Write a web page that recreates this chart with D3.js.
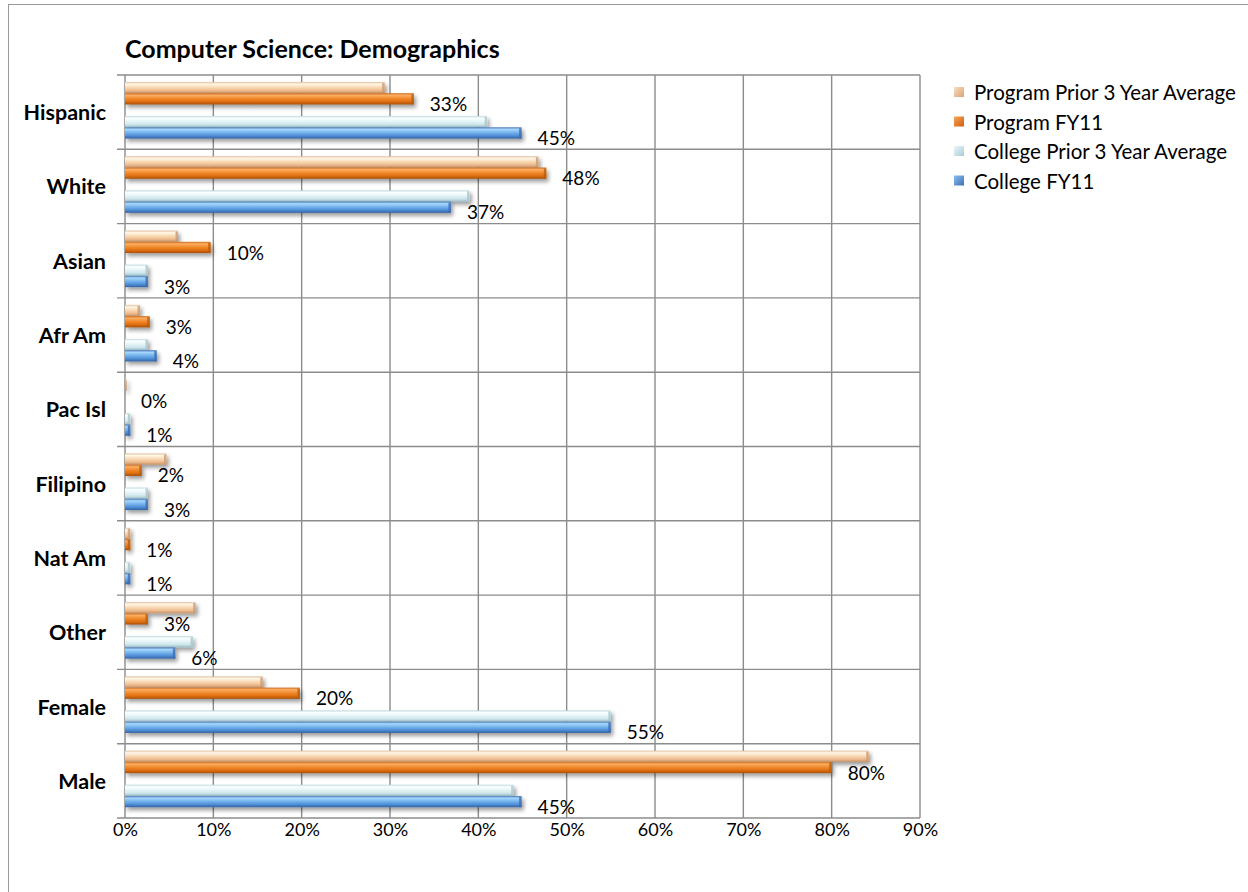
<!DOCTYPE html>
<html>
<head>
<meta charset="utf-8">
<script src="https://cdnjs.cloudflare.com/ajax/libs/d3/7.8.5/d3.min.js"></script>
<style>
  html, body { margin: 0; padding: 0; background: #ffffff; }
  svg { display: block; }
  text { font-family: Lato, "Open Sans", sans-serif; fill: #000; }
</style>
</head>
<body>
<div id="chart"></div>
<script>
// Categories shown top to bottom
const categories = ["Hispanic", "White", "Asian", "Afr Am", "Pac Isl", "Filipino", "Nat Am", "Other", "Female", "Male"];

// Series values (share of students)
const programPrior = [0.294, 0.468, 0.060, 0.017, 0.002, 0.047, 0.006, 0.080, 0.156, 0.842];
const programFY11  = [0.327, 0.477, 0.097, 0.028, 0.000, 0.019, 0.006, 0.026, 0.198, 0.800];
const collegePrior = [0.410, 0.390, 0.026, 0.026, 0.006, 0.026, 0.006, 0.077, 0.550, 0.440];
const collegeFY11  = [0.449, 0.369, 0.026, 0.036, 0.006, 0.026, 0.006, 0.057, 0.550, 0.449];

const seriesNames = ["Program Prior 3 Year Average", "Program FY11", "College Prior 3 Year Average", "College FY11"];
const tickValues = [0, 0.1, 0.2, 0.3, 0.4, 0.5, 0.6, 0.7, 0.8, 0.9];
const titleText = "Computer Science: Demographics";

const W = 1248, H = 892;
const plot = { left: 125, right: 920, top: 75, bottom: 818 };

const series = [
  { key: "pp", name: seriesNames[0], values: programPrior, group: "Program", sub: "prior", label: false,
    stops: ["#E2BE9C", "#FFF7E8", "#FADCB8", "#EEBC8E", "#C4926A"], cap: "#C99A72", legend: ["#F7DDC2", "#D9A477"] },
  { key: "pf", name: seriesNames[1], values: programFY11, group: "Program", sub: "fy11", label: true,
    stops: ["#D16A18", "#FBAE63", "#F18C2E", "#E06E10", "#A4500C"], cap: "#B85C10", legend: ["#F7A35A", "#D0600C"] },
  { key: "cp", name: seriesNames[2], values: collegePrior, group: "College", sub: "prior", label: false,
    stops: ["#BFD9E0", "#FBFFFF", "#E6F5F8", "#CDE6EB", "#98BAC3"], cap: "#A7C6CD", legend: ["#EAF6F9", "#A9CCD6"] },
  { key: "cf", name: seriesNames[3], values: collegeFY11, group: "College", sub: "fy11", label: true,
    stops: ["#4677BA", "#A6D7FB", "#78B6EE", "#4F8ED6", "#3362A3"], cap: "#3D6CB0", legend: ["#8BBDF0", "#3F70B5"] }
];

const svg = d3.select("#chart").append("svg").attr("width", W).attr("height", H);
const defs = svg.append("defs");

// Bar gradients (cylinder-like shading, top to bottom)
series.forEach(s => {
  const g = defs.append("linearGradient").attr("id", "grad-" + s.key)
    .attr("x1", 0).attr("y1", 0).attr("x2", 0).attr("y2", 1);
  [0, 0.18, 0.45, 0.75, 1].forEach((o, i) => g.append("stop").attr("offset", o).attr("stop-color", s.stops[i]));
  const lg = defs.append("linearGradient").attr("id", "lgrad-" + s.key)
    .attr("x1", 0).attr("y1", 0).attr("x2", 1).attr("y2", 1);
  lg.append("stop").attr("offset", 0).attr("stop-color", s.legend[0]);
  lg.append("stop").attr("offset", 1).attr("stop-color", s.legend[1]);
});

// Soft shadow cast by each bar
const f = defs.append("filter").attr("id", "shadow").attr("x", "-5%").attr("y", "-50%").attr("width", "115%").attr("height", "250%");
f.append("feGaussianBlur").attr("in", "SourceAlpha").attr("stdDeviation", 2.2).attr("result", "blur");
f.append("feOffset").attr("in", "blur").attr("dx", 2).attr("dy", 3).attr("result", "off");
f.append("feComponentTransfer").attr("in", "off").attr("result", "shade")
  .append("feFuncA").attr("type", "linear").attr("slope", 0.4);
const merge = f.append("feMerge");
merge.append("feMergeNode").attr("in", "shade");
merge.append("feMergeNode").attr("in", "SourceGraphic");

// Outer chart frame
svg.append("rect").attr("x", 8.5).attr("y", 4.5).attr("width", W + 20).attr("height", H + 20)
  .attr("fill", "none").attr("stroke", "#9a9a9a").attr("stroke-width", 1);

// Scales
const x = d3.scaleLinear().domain([0, 0.9]).range([plot.left, plot.right]);
const y = d3.scaleBand().domain(categories).range([plot.top, plot.bottom]).padding(0);
const bw = y.bandwidth();
const yGroup = d3.scaleBand().domain(["Program", "College"]).range([bw * 0.094, bw * 0.855]).paddingInner(0.34);
const ySub = d3.scaleBand().domain(["prior", "fy11"]).range([0, yGroup.bandwidth()]).padding(0);
const barY = (s, c) => y(c) + yGroup(s.group) + ySub(s.sub);
const barH = ySub.bandwidth();

// Gridlines
const grid = svg.append("g").attr("stroke", "#8c8c8c").attr("stroke-width", 1.4);
grid.selectAll("line.v").data(tickValues).join("line").attr("class", "v")
  .attr("x1", d => x(d)).attr("x2", d => x(d))
  .attr("y1", plot.top).attr("y2", plot.bottom);
const sepValues = categories.map(c => y(c)).concat([plot.bottom]);
grid.selectAll("line.h").data(sepValues).join("line").attr("class", "h")
  .attr("x1", plot.left - 8).attr("x2", plot.right)
  .attr("y1", d => d).attr("y2", d => d);

// Bars
const barsG = svg.append("g");
series.forEach(s => {
  const g = barsG.append("g").attr("filter", "url(#shadow)");
  const data = categories.map((c, i) => ({ c, v: s.values[i] }));
  g.selectAll("rect.body").data(data).join("rect").attr("class", "body")
    .attr("x", x(0))
    .attr("y", d => barY(s, d.c))
    .attr("width", d => Math.max(0, x(d.v) - x(0)))
    .attr("height", barH)
    .attr("fill", `url(#grad-${s.key})`);
  // beveled end face
  g.selectAll("rect.cap").data(data.filter(d => d.v > 0)).join("rect").attr("class", "cap")
    .attr("x", d => x(d.v) - Math.min(2.5, x(d.v) - x(0)))
    .attr("y", d => barY(s, d.c) + 1)
    .attr("width", d => Math.min(2.5, x(d.v) - x(0)))
    .attr("height", barH - 1)
    .attr("fill", s.cap).attr("opacity", 0.8);
});

// Value labels on the FY11 series
const fmt = d3.format(".0%");
series.filter(s => s.label).forEach(s => {
  svg.append("g").selectAll("text").data(categories.map((c, i) => ({ c, v: s.values[i] }))).join("text")
    .attr("x", d => x(d.v) + 16)
    .attr("y", d => barY(s, d.c) + barH - 1)
    .attr("dominant-baseline", "central")
    .attr("font-size", 19)
    .text(d => fmt(d.v));
});

// Category axis labels
svg.append("g").selectAll("text").data(categories).join("text")
  .attr("x", 106)
  .attr("y", d => y(d) + bw / 2)
  .attr("text-anchor", "end")
  .attr("dominant-baseline", "central")
  .attr("font-size", 21.5).attr("font-weight", 700)
  .text(d => d);

// Value axis
const xAxis = d3.axisBottom(x).tickValues(tickValues).tickFormat(fmt).tickSize(0).tickPadding(0);
const axG = svg.append("g").attr("transform", "translate(0, 829)").call(xAxis);
axG.select(".domain").remove();
axG.selectAll(".tick text")
  .attr("font-size", 18).attr("font-family", "Lato, sans-serif").attr("fill", "#000")
  .attr("y", 0).attr("dy", null).attr("dominant-baseline", "central");

// Title
svg.append("text").attr("x", 125).attr("y", 48)
  .attr("dominant-baseline", "central")
  .attr("font-size", 25).attr("font-weight", 700)
  .text(titleText);

// Legend
const legend = svg.append("g").attr("transform", "translate(954, 92)");
const li = legend.selectAll("g").data(series).join("g")
  .attr("transform", (d, i) => `translate(0, ${i * 29.5})`);
li.append("rect").attr("x", 0).attr("y", -5).attr("width", 10).attr("height", 10)
  .attr("fill", d => `url(#lgrad-${d.key})`);
li.append("text").attr("x", 20).attr("y", 0).attr("dominant-baseline", "central")
  .attr("font-size", 20.5).text(d => d.name);
</script>
</body>
</html>
